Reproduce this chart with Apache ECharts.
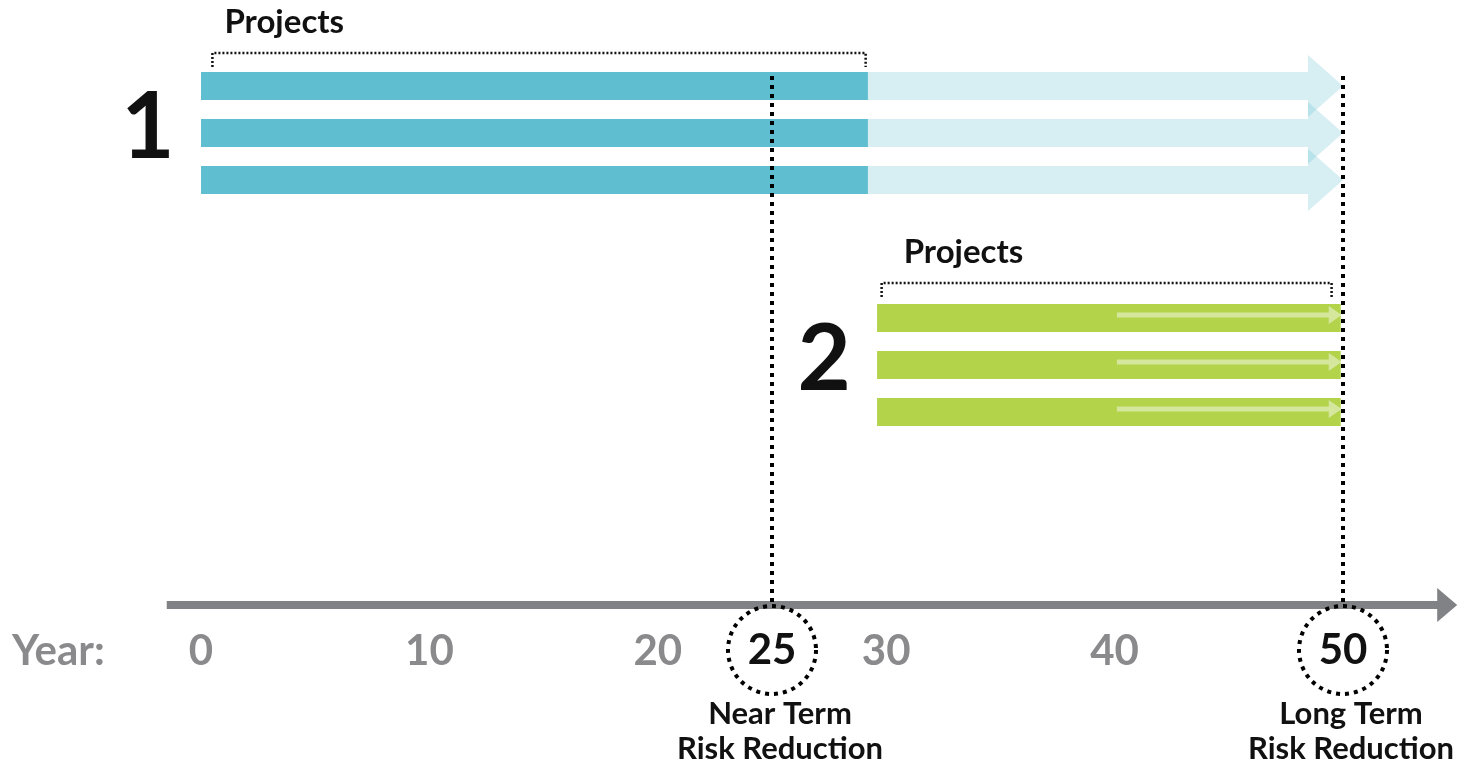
<!DOCTYPE html>
<html>
<head>
<meta charset="utf-8">
<script src="https://cdn.jsdelivr.net/npm/echarts@6/dist/echarts.min.js"></script>
<style>
  html, body { margin: 0; padding: 0; background: #fff; }
  #chart { width: 1458px; height: 767px; }
</style>
</head>
<body>
<div id="chart"></div>
<script>
// timeline, in years
const yearTicks = [0, 10, 20, 30, 40, 50];
const milestoneYears = [25, 50];
const milestoneNames = ['Near Term\nRisk Reduction', 'Long Term\nRisk Reduction'];
const timelineSpan = [-1.5, 55];

// phase 1 projects: funded part, then faded extension up to year 50
const phase1Start = [0, 0, 0];
const phase1End = [29.2, 29.2, 29.2];
const phase1Reach = [50, 50, 50];

// phase 2 projects
const phase2Start = [29.6, 29.6, 29.6];
const phase2End = [49.9, 49.9, 49.9];
const phase2Flow = [40.1, 40.1, 40.1];

const phaseNames = ['1', '2'];
const bracketFrom = [0.5, 29.8];
const bracketTo = [29.1, 49.5];
const bracketText = ['Projects', 'Projects'];

// layout (pixels)
const AXIS_Y = 605;
const ROWS = [[86, 133, 180], [318, 365, 412]];
const BAR_H = 28;
const BRACKET_Y = [53, 283];
const BRACKET_TEXT_INSET = [12, 22];

const BLUE = '#5fbecf';
const GREEN = '#b3d34b';
const GREY = '#808285';
const LABEL_GREY = '#8a8a8c';
const FONT = 'Lato';

const chart = echarts.init(document.getElementById('chart'));

function bar(points, style) {
  return { type: 'polygon', shape: { points: points }, style: style };
}

const option = {
  animation: false,
  backgroundColor: '#fff',
  grid: { left: 201, right: 115, top: 0, bottom: 767 - AXIS_Y },
  graphic: [{
    type: 'text',
    left: 12,
    top: 630,
    style: { text: 'Year:', fontSize: 42, fontWeight: 'bold', fontFamily: FONT, fill: LABEL_GREY }
  }],
  xAxis: {
    type: 'value',
    min: 0,
    max: 50,
    interval: 10,
    axisLine: { show: false },
    axisTick: { show: false },
    splitLine: { show: false },
    axisLabel: {
      margin: 25,
      fontSize: 42,
      fontWeight: 'bold',
      fontFamily: FONT,
      color: LABEL_GREY,
      formatter: v => milestoneYears.includes(v) ? '' : String(v)
    }
  },
  yAxis: { type: 'value', min: 0, max: AXIS_Y, inverse: true, show: false },
  series: [
    {
      // the time axis with its arrow
      type: 'custom',
      clip: false,
      silent: true,
      data: [timelineSpan],
      renderItem: (params, api) => {
        const a = api.coord([api.value(0), AXIS_Y]);
        const b = api.coord([api.value(1), AXIS_Y]);
        const y = a[1];
        return bar([[a[0], y - 4], [b[0] - 20, y - 4], [b[0] - 20, y - 17], [b[0], y],
          [b[0] - 20, y + 17], [b[0] - 20, y + 4], [a[0], y + 4]], { fill: GREY });
      }
    },
    {
      // phase 1
      type: 'custom',
      clip: false,
      silent: true,
      data: phase1Start.map((s, i) => [s, phase1End[i], phase1Reach[i]]),
      renderItem: (params, api) => {
        const y = ROWS[0][params.dataIndex];
        const s = api.coord([api.value(0), y])[0];
        const e = api.coord([api.value(1), y])[0];
        const r = api.coord([api.value(2), y])[0];
        const h = BAR_H / 2;
        return {
          type: 'group',
          children: [
            bar([[e, y - h], [r - 35, y - h], [r - 35, y - 31], [r, y], [r - 35, y + 31],
              [r - 35, y + h], [e, y + h]], { fill: 'rgba(95,190,207,0.25)' }),
            { type: 'rect', shape: { x: s, y: y - h, width: e - s, height: BAR_H }, style: { fill: BLUE } }
          ]
        };
      }
    },
    {
      // phase 2
      type: 'custom',
      clip: false,
      silent: true,
      data: phase2Start.map((s, i) => [s, phase2End[i], phase2Flow[i]]),
      renderItem: (params, api) => {
        const y = ROWS[1][params.dataIndex];
        const s = api.coord([api.value(0), y])[0];
        const e = api.coord([api.value(1), y])[0];
        const f = api.coord([api.value(2), y])[0];
        const h = BAR_H / 2;
        const ay = y - 3;
        return {
          type: 'group',
          children: [
            { type: 'rect', shape: { x: s, y: y - h, width: e - s, height: BAR_H }, style: { fill: GREEN } },
            bar([[f, ay - 2.5], [e - 12, ay - 2.5], [e - 12, ay - 9], [e + 1, ay], [e - 12, ay + 9],
              [e - 12, ay + 2.5], [f, ay + 2.5]], { fill: 'rgba(255,255,255,0.45)' })
          ]
        };
      }
    },
    {
      // "Projects" brackets
      type: 'custom',
      clip: false,
      silent: true,
      data: bracketFrom.map((f, i) => [f, bracketTo[i]]),
      renderItem: (params, api) => {
        const i = params.dataIndex;
        const by = BRACKET_Y[i];
        const a = api.coord([api.value(0), by])[0];
        const b = api.coord([api.value(1), by])[0];
        return {
          type: 'group',
          children: [
            {
              type: 'polyline',
              shape: { points: [[a, by + 14], [a, by], [b, by], [b, by + 14]] },
              style: { stroke: '#111', lineWidth: 2.5, lineDash: [2, 2], fill: null }
            },
            {
              type: 'text',
              style: {
                x: a + BRACKET_TEXT_INSET[i], y: by - 31, text: bracketText[i],
                fontSize: 33, fontWeight: 'bold', fontFamily: FONT, fill: '#111',
                align: 'left', verticalAlign: 'middle'
              }
            }
          ]
        };
      }
    },
    {
      // milestones: dotted guide, circled year, caption
      type: 'custom',
      clip: false,
      silent: true,
      data: milestoneYears.map(v => [v]),
      renderItem: (params, api) => {
        const i = params.dataIndex;
        const x = api.coord([api.value(0), AXIS_Y])[0];
        const cy = AXIS_Y + 45;
        return {
          type: 'group',
          children: [
            {
              type: 'line',
              shape: { x1: x, y1: 76, x2: x, y2: AXIS_Y },
              style: { stroke: '#000', lineWidth: 4, lineDash: [4, 5] }
            },
            {
              type: 'circle',
              shape: { cx: x, cy: cy, r: 44 },
              style: { stroke: '#000', lineWidth: 4, lineDash: [4, 5], fill: null }
            },
            {
              type: 'text',
              style: {
                x: x, y: cy, text: String(milestoneYears[i]),
                fontSize: 42, fontWeight: 'bold', fontFamily: FONT, fill: '#111',
                align: 'center', verticalAlign: 'middle'
              }
            },
            {
              type: 'text',
              style: {
                x: x + 8, y: cy + 46, text: milestoneNames[i],
                fontSize: 31, fontWeight: 'bold', fontFamily: FONT, fill: '#111',
                lineHeight: 35, align: 'center', verticalAlign: 'top'
              }
            }
          ]
        };
      }
    },
    {
      // big phase numbers
      type: 'custom',
      clip: false,
      silent: true,
      data: [[phase1Start[0]], [phase2Start[0]]],
      renderItem: (params, api) => {
        const i = params.dataIndex;
        const y = ROWS[i][1];
        const x = api.coord([api.value(0), y])[0];
        return {
          type: 'text',
          style: {
            x: x - 53, y: y - 5, text: phaseNames[i],
            fontSize: 92, fontWeight: 'bold', fontFamily: FONT, fill: '#111',
            align: 'center', verticalAlign: 'middle'
          }
        };
      }
    }
  ]
};

chart.setOption(option);
</script>
</body>
</html>
